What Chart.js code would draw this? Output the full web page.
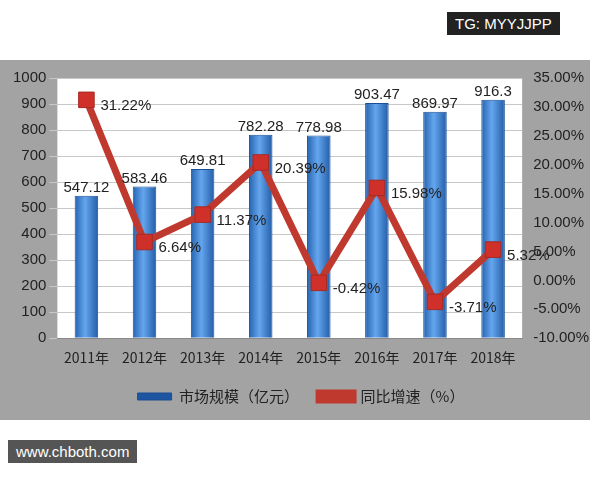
<!DOCTYPE html>
<html><head><meta charset="utf-8">
<script src="https://cdn.jsdelivr.net/npm/chart.js@4"></script>
<style>
body{margin:0;background:#fff;width:600px;height:480px;overflow:hidden;position:relative;font-family:"Noto Sans CJK SC",sans-serif}
#wrap{position:absolute;left:0;top:0;width:600px;height:480px}
.tag{position:absolute;background:#333;color:#fff;font:15px "Liberation Sans",Arial;padding:3px 8px}
</style></head><body>
<div id="wrap"><canvas id="c" width="600" height="480"></canvas></div>
<div class="tag" style="left:447px;top:12px;background:#222">TG: MYYJJPP</div>
<div class="tag" style="left:8px;top:440px;background:#555">www.chboth.com</div>
<script>
const categories=["2011年","2012年","2013年","2014年","2015年","2016年","2017年","2018年"];
const marketSize=[547.12,583.46,649.81,782.28,778.98,903.47,869.97,916.3];
const growth=[31.22,6.64,11.37,20.39,-0.42,15.98,-3.71,5.32];
const sizeLabels=["547.12","583.46","649.81","782.28","778.98","903.47","869.97","916.3"];
const growthLabels=["31.22%","6.64%","11.37%","20.39%","-0.42%","15.98%","-3.71%","5.32%"];

const bg={id:'bg',beforeDraw(ch){const c=ch.ctx,a=ch.chartArea;c.save();c.fillStyle='#a3a3a3';c.fillRect(0,60,590,360);c.fillStyle='#fff';c.fillRect(a.left,a.top,a.right-a.left,a.bottom-a.top);c.restore();}};
const labels={id:'lbl',afterDatasetsDraw(ch){const c=ch.ctx;c.save();c.fillStyle='#222';c.font='15px "Liberation Sans",Arial';
ch.getDatasetMeta(0).data.forEach((b,i)=>{c.textAlign='center';c.fillText(sizeLabels[i],b.x,b.y-8);});
ch.getDatasetMeta(1).data.forEach((p,i)=>{c.textAlign='left';c.fillText(growthLabels[i],p.x+14,p.y+6);});c.restore();}};
const grad=(ctx)=>{const ch=ctx.chart;if(!ch.chartArea||ctx.dataIndex===undefined)return '#2e6fc0';const x=ch.scales.x.getPixelForValue(ctx.dataIndex);const g=ch.ctx.createLinearGradient(x-13,0,x+13,0);g.addColorStop(0,'#1e5aa8');g.addColorStop(0.45,'#64a6ee');g.addColorStop(1,'#1d55a0');return g;};
new Chart(document.getElementById('c'),{
data:{labels:categories,datasets:[
{type:'bar',label:'市场规模（亿元）',data:marketSize,yAxisID:'y',backgroundColor:grad,borderColor:'#1a4f96',borderWidth:1,barPercentage:0.45,categoryPercentage:0.9,order:2},
{type:'line',label:'同比增速（%）',data:growth,yAxisID:'y1',borderColor:'#c0392f',borderWidth:7,pointStyle:'rect',pointRadius:11,pointBackgroundColor:'#d0302a',pointBorderColor:'#a52a24',pointBorderWidth:1,order:1}
]},
plugins:[bg,labels],
options:{responsive:false,animation:false,
layout:{padding:{left:10,right:8,top:78,bottom:66}},
plugins:{legend:{position:'bottom',labels:{sort:(a,b)=>a.datasetIndex-b.datasetIndex,font:{size:15,family:'"Noto Sans CJK SC"'},color:'#222',boxWidth:34,boxHeight:7,padding:20}},tooltip:{enabled:false}},
scales:{
x:{grid:{display:false},border:{color:'#888'},ticks:{color:'#222',font:{size:14,family:'"Noto Sans CJK SC"'}}},
y:{min:0,max:1000,ticks:{stepSize:100,color:'#222',font:{size:15,family:'"Liberation Sans"'},callback:v=>String(v)},grid:{color:'#c8c8c8'},border:{display:false}},
y1:{position:'right',min:-10,max:35,ticks:{stepSize:5,color:'#222',font:{size:15,family:'"Liberation Sans"'},callback:v=>v.toFixed(2)+'%'},grid:{display:false},border:{display:false}}
}}});
</script></body></html>
